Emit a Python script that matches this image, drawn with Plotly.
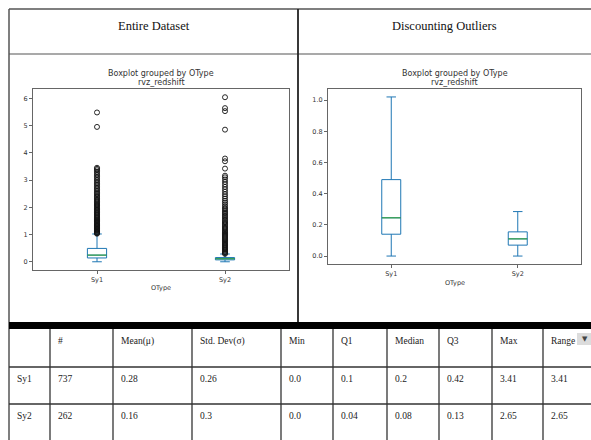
import plotly.graph_objects as go

W, H = 591, 440

# ---- box plot statistics (rvz_redshift grouped by OType) ----
GROUPS = ["Sy1", "Sy2"]
POSITIONS = [1, 2]
Q1 = [0.14, 0.07]
MEDIANS = [0.245, 0.11]
Q3 = [0.49, 0.155]
LOWER_WHISKER = [0.0, 0.0]
UPPER_WHISKER = [1.02, 0.285]

SY1_FLIERS = [1.03, 1.05, 1.08, 1.1, 1.13, 1.16, 1.18, 1.21, 1.24, 1.27, 1.3, 1.32,
              1.35, 1.38, 1.41, 1.44, 1.47, 1.5, 1.53, 1.56, 1.6, 1.63, 1.66, 1.7,
              1.73, 1.77, 1.8, 1.84, 1.88, 1.91, 1.95, 1.99, 2.03, 2.07, 2.1, 2.14,
              2.18, 2.22, 2.27, 2.31, 2.36, 2.4, 2.45, 2.5, 2.55, 2.6, 2.66, 2.71,
              2.77, 2.83, 2.88, 2.94, 3.0, 3.06, 3.12, 3.18, 3.24, 3.3, 3.36, 3.41,
              3.45, 4.95, 5.48]
SY2_FLIERS = [0.29, 0.32, 0.35, 0.38, 0.42, 0.45, 0.49, 0.52, 0.56, 0.6, 0.63, 0.67,
              0.71, 0.75, 0.79, 0.83, 0.87, 0.91, 0.95, 0.99, 1.03, 1.07, 1.11, 1.15,
              1.2, 1.24, 1.28, 1.33, 1.37, 1.42, 1.46, 1.51, 1.56, 1.61, 1.66, 1.71,
              1.76, 1.81, 1.86, 1.92, 1.97, 2.03, 2.1, 2.17, 2.24, 2.32, 2.4, 2.48,
              2.57, 2.66, 2.75, 2.84, 2.93, 3.02, 3.1, 3.16, 3.42, 3.69, 3.79, 4.85,
              5.53, 5.64, 6.04]
FLIERS = [SY1_FLIERS, SY2_FLIERS]

LEFT_YTICKS = [0, 1, 2, 3, 4, 5, 6]
RIGHT_YTICKS = [0.0, 0.2, 0.4, 0.6, 0.8, 1.0]

# ---- summary table ----
TABLE_HEADERS = ["", "#", "Mean(μ)", "Std. Dev(σ)", "Min", "Q1", "Median", "Q3", "Max", "Range"]
ROW_LABELS = ["Sy1", "Sy2"]
COUNT = [737, 262]
MEAN = [0.28, 0.16]
STD_DEV = [0.26, 0.3]
MIN_VAL = [0.0, 0.0]
Q1_VAL = [0.1, 0.04]
MEDIAN_VAL = [0.2, 0.08]
Q3_VAL = [0.42, 0.13]
MAX_VAL = [3.41, 2.65]
RANGE_VAL = [3.41, 2.65]

PANEL_TITLES = ["Entire Dataset", "Discounting Outliers"]

BLUE = "#1f77b4"
GREEN = "#2ca02c"
BOX_WIDTH = 0.15
SERIF = "Liberation Serif"
SANS = "DejaVu Sans"


def px(x):
    return x / W


def py(y):
    return 1 - y / H


fig = go.Figure()

axes = [("x", "y"), ("x2", "y2")]
for k, (xa, ya) in enumerate(axes):
    for i, pos in enumerate(POSITIONS):
        fig.add_trace(go.Box(
            x=[pos], q1=[Q1[i]], median=[MEDIANS[i]], q3=[Q3[i]],
            lowerfence=[LOWER_WHISKER[i]], upperfence=[UPPER_WHISKER[i]],
            width=BOX_WIDTH, whiskerwidth=0.5, boxpoints=False,
            line=dict(color=BLUE, width=1), fillcolor="rgba(0,0,0,0)",
            xaxis=xa, yaxis=ya, showlegend=False, hoverinfo="skip"))
        fig.add_trace(go.Scatter(
            x=[pos - BOX_WIDTH / 2, pos + BOX_WIDTH / 2], y=[MEDIANS[i], MEDIANS[i]],
            mode="lines", line=dict(color=GREEN, width=1),
            xaxis=xa, yaxis=ya, showlegend=False, hoverinfo="skip"))
        if k == 0:
            fig.add_trace(go.Scatter(
                x=[pos] * len(FLIERS[i]), y=FLIERS[i], mode="markers",
                marker=dict(symbol="circle-open", size=5, color="#111",
                            line=dict(width=0.9)),
                xaxis=xa, yaxis=ya, showlegend=False, hoverinfo="skip"))


def xaxis_style(dom):
    return dict(domain=dom, range=[0.5, 2.5], tickvals=POSITIONS, ticktext=GROUPS,
                showgrid=False, zeroline=False, showline=True, mirror=True,
                linecolor="#666", linewidth=1, ticks="outside", ticklen=3,
                tickcolor="#666", tickfont=dict(family=SANS, size=6.5, color="#333"),
                fixedrange=True)


def yaxis_style(dom, rng, tv, tt, anchor):
    return dict(domain=dom, range=rng, tickvals=tv, ticktext=tt, anchor=anchor,
                showgrid=False, zeroline=False, showline=True, mirror=True,
                linecolor="#666", linewidth=1, ticks="outside", ticklen=3,
                tickcolor="#666", tickfont=dict(family=SANS, size=6.5, color="#333"),
                fixedrange=True)


left_dom_x = [px(33), px(289)]
left_dom_y = [py(270), py(89)]
right_dom_x = [px(328), px(581)]
right_dom_y = [py(264), py(89)]

fig.update_layout(
    width=W, height=H, margin=dict(l=0, r=0, t=0, b=0),
    paper_bgcolor="white", plot_bgcolor="white", showlegend=False,
    boxmode="overlay",
    xaxis=dict(xaxis_style(left_dom_x), anchor="y"),
    yaxis=yaxis_style(left_dom_y, [-0.302, 6.342], LEFT_YTICKS,
                      [str(t) for t in LEFT_YTICKS], "x"),
    xaxis2=dict(xaxis_style(right_dom_x), anchor="y2"),
    yaxis2=yaxis_style(right_dom_y, [-0.051, 1.071], RIGHT_YTICKS,
                       [f"{t:.1f}" for t in RIGHT_YTICKS], "x2"),
)

annotations = []
shapes = []


def label(x, y, text, size, family=SANS, color="#333", xanchor="center"):
    annotations.append(dict(x=px(x), y=py(y), xref="paper", yref="paper", text=text,
                            xanchor=xanchor, yanchor="middle", showarrow=False,
                            font=dict(family=family, size=size, color=color)))


# plot titles and axis labels inside each panel
for (x0, x1, ylab) in [(33, 289, 288), (328, 581, 283)]:
    cx = (x0 + x1) / 2
    label(cx, 73.5, "Boxplot grouped by OType", 8)
    label(cx, 82, "rvz_redshift", 8)
    label(cx, ylab, "OType", 6.5)

# outer frame of the two-panel layout
frame_col = "#555"
shapes += [
    dict(type="line", xref="paper", yref="paper", x0=px(9), x1=1, y0=py(9), y1=py(9),
         line=dict(color=frame_col, width=1.5)),
    dict(type="line", xref="paper", yref="paper", x0=px(9), x1=1, y0=py(54), y1=py(54),
         line=dict(color=frame_col, width=1.2)),
    dict(type="line", xref="paper", yref="paper", x0=px(9), x1=px(9), y0=py(9), y1=0,
         line=dict(color=frame_col, width=1.5)),
    dict(type="line", xref="paper", yref="paper", x0=px(298), x1=px(298), y0=py(9),
         y1=py(322), line=dict(color="#222", width=1.8)),
    dict(type="rect", xref="paper", yref="paper", x0=px(9), x1=1, y0=py(329),
         y1=py(322), fillcolor="black", line=dict(width=0)),
]
for title, (x0, x1) in zip(PANEL_TITLES, [(9, 298), (298, 591)]):
    label((x0 + x1) / 2, 26, title, 12.5, family=SERIF, color="#111")

# summary table grid
col_edges = [9, 50, 113, 192, 281, 333, 387, 439, 492, 543]
row_edges = [329, 367, 404, 441]
for xe in col_edges[1:]:
    shapes.append(dict(type="line", xref="paper", yref="paper", x0=px(xe), x1=px(xe),
                       y0=py(329), y1=0, line=dict(color="#333", width=1.3)))
for ye in row_edges[1:]:
    shapes.append(dict(type="line", xref="paper", yref="paper", x0=px(9), x1=1,
                       y0=py(ye), y1=py(ye), line=dict(color="#333", width=1.3)))

table_rows = [TABLE_HEADERS]
for i, lab in enumerate(ROW_LABELS):
    table_rows.append([lab, COUNT[i], MEAN[i], STD_DEV[i], MIN_VAL[i], Q1_VAL[i],
                       MEDIAN_VAL[i], Q3_VAL[i], MAX_VAL[i], RANGE_VAL[i]])

for r, row in enumerate(table_rows):
    for c, val in enumerate(row):
        if val == "":
            continue
        label(col_edges[c] + 6, row_edges[r] + 12, str(val), 9.5, family=SERIF,
              color="#222", xanchor="left")

# sort/filter dropdown button on the last header cell
shapes.append(dict(type="rect", xref="paper", yref="paper", x0=px(577), x1=1,
                   y0=py(345), y1=py(333), fillcolor="#dcdcdc", line=dict(width=0)))
label(584.5, 339, "▼", 7, color="#444")

fig.update_layout(shapes=shapes, annotations=annotations)
fig.write_html("out.html")
